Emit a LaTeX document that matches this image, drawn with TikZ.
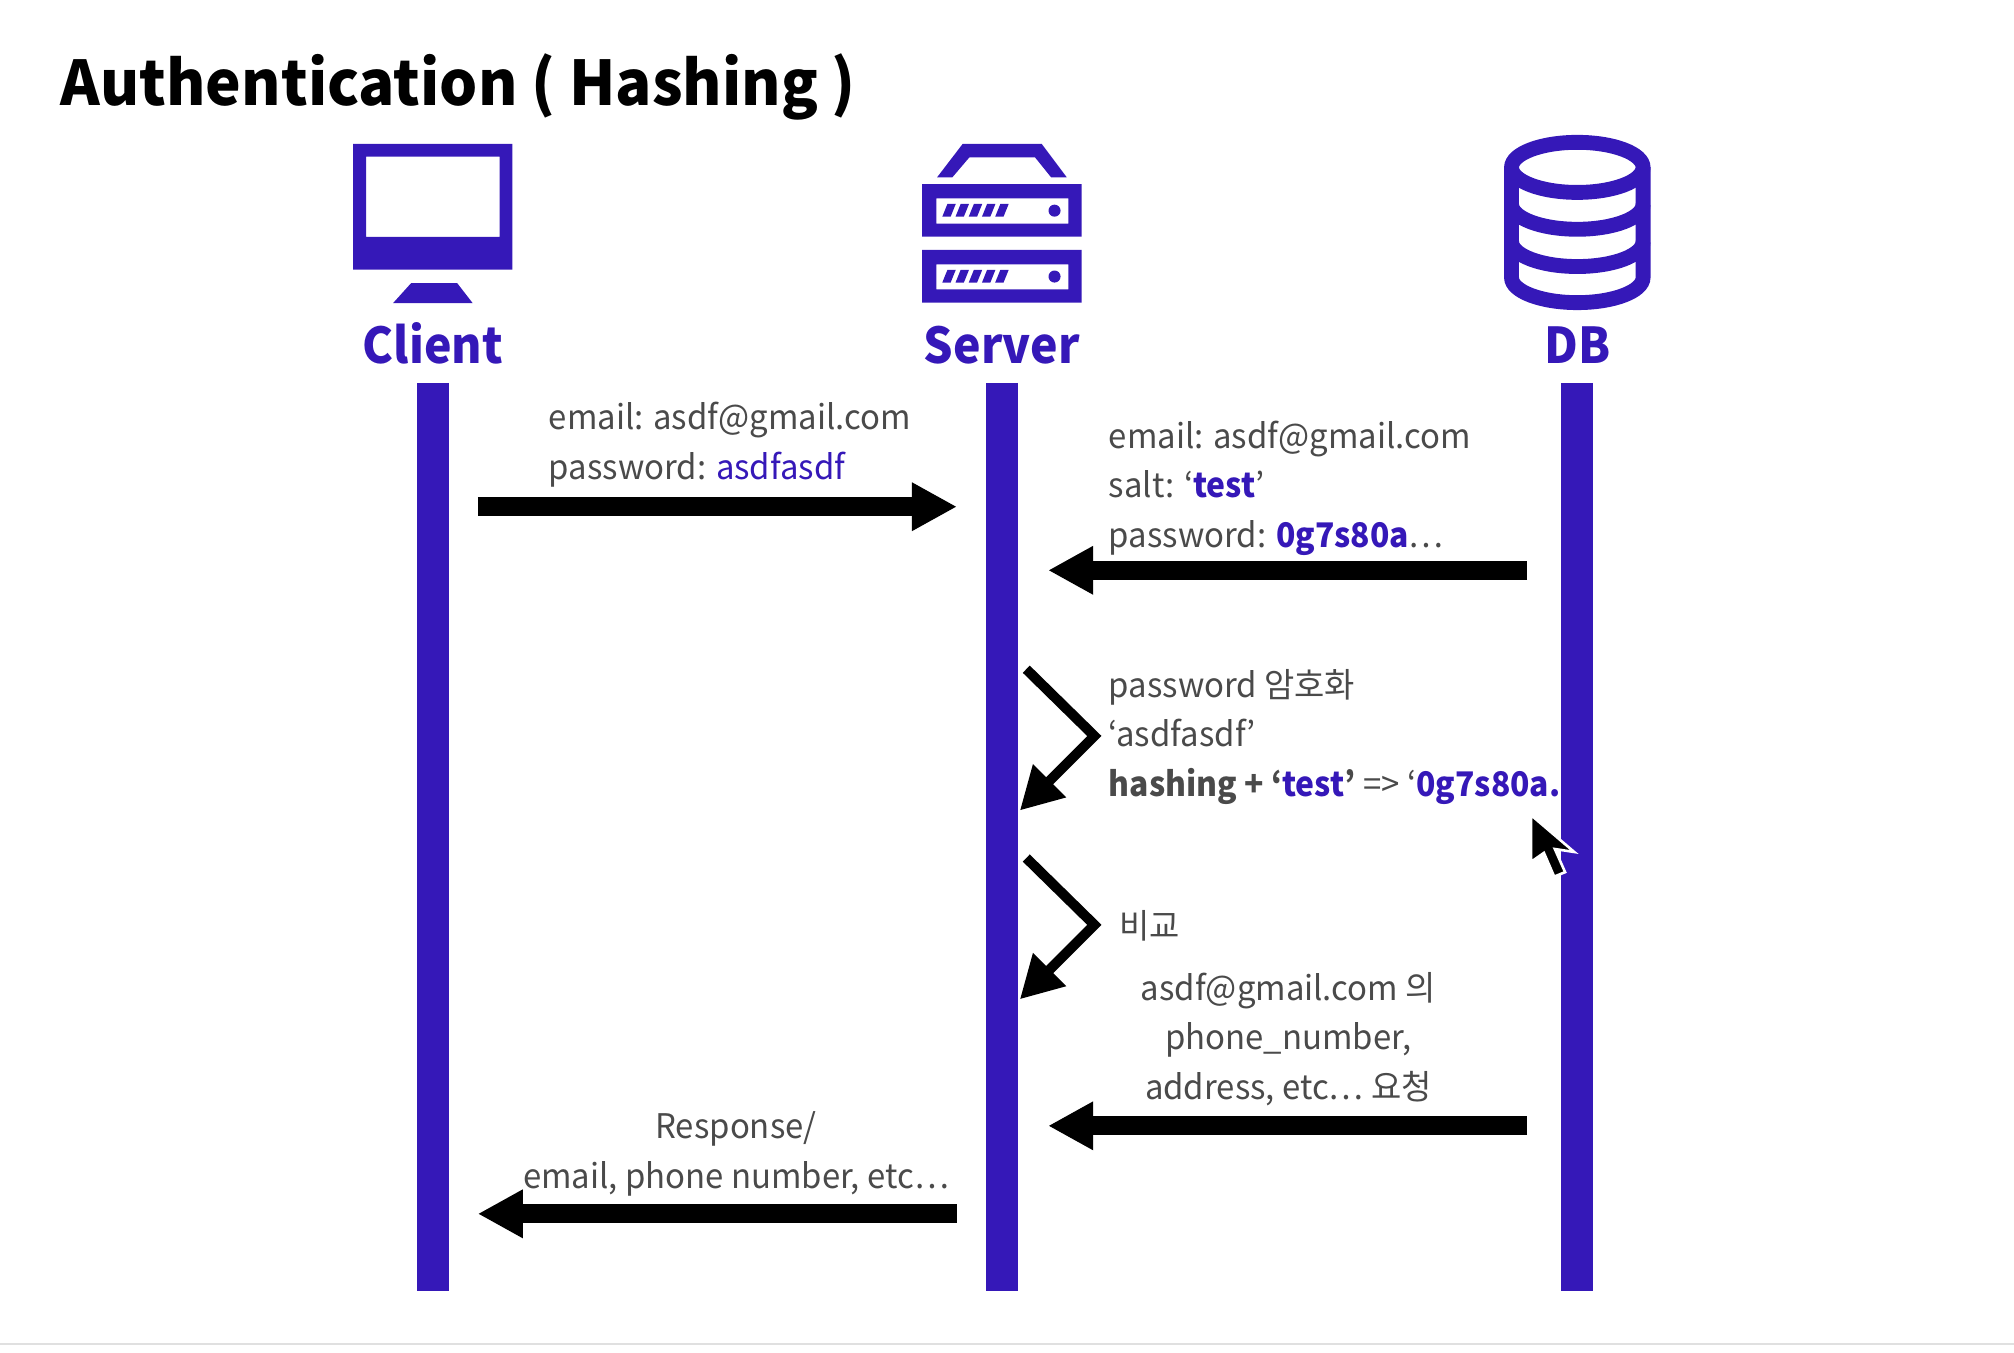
\documentclass[tikz,border=0pt]{standalone}
\usepackage{xcolor}
\usepackage{fontspec}
\setmainfont[FakeStretch=0.97, BoldFeatures={FakeStretch=0.94}]{Noto Sans CJK KR}
\newfontfamily\headfont[FakeStretch=0.975]{Noto Sans CJK KR}
\usetikzlibrary{arrows.meta}
\definecolor{iconblue}{HTML}{3518B8}
\definecolor{textgray}{HTML}{4A4A4A}
\newcommand{\hl}[1]{\textcolor{iconblue}{#1}}
\newcommand{\hlb}[1]{\textcolor{iconblue}{\bfseries #1}}
\tikzset{
    lifeline/.style={draw=iconblue, line width=16pt},
    bigarrow/.style={line width=9.3pt, -{Triangle[length=22.4pt, width=22.6pt]}},
    selfarrow/.style={line width=5pt, miter limit=10, -{Triangle[length=21pt, width=22pt]}},
    actor/.style={text=iconblue, font=\fontsize{24.6}{28}\selectfont\bfseries},
    msg/.style={text=textgray, inner sep=0pt, font=\fontsize{16.9}{24.7}\selectfont},
}
\begin{document}
\begin{tikzpicture}[x=0.64pt, y=-0.64pt]
    \useasboundingbox (0,0) rectangle (1568,1052.6);
    \draw[black!12, line width=1pt] (0,1046) -- (1568,1046);

    \node[anchor=base west, inner sep=0pt, font=\fontsize{30.7}{36}\selectfont\headfont\bfseries] (title) at (47,82) {Authentication ( Hashing )};

    % client icon
    \fill[iconblue, even odd rule] (275,112) rectangle (399,210) (285,122) rectangle (389,184.5);
    \fill[iconblue] (320,220.5) -- (356,220.5) -- (368,236) -- (306,236) -- cycle;
    % server icon
    \fill[iconblue] (749.5,112) -- (811,112) -- (830.5,138) -- (818.3,138) -- (805.8,122.5) -- (754.7,122.5) -- (741.5,138) -- (729.6,138) -- cycle;
    \foreach \dy in {0,51.3} {
        \begin{scope}[yshift=-\dy*0.64pt]
        \fill[iconblue, even odd rule] (718,143.3) rectangle (842,184.3) (729,154.5) rectangle (831.7,174);
        \foreach \i in {0,...,4}
            \fill[iconblue] (733.6+\i*10.3,168.7) -- (737.6+\i*10.3,158.8) -- (744.1+\i*10.3,158.8) -- (740.1+\i*10.3,168.7) -- cycle;
        \fill[iconblue] (821,164) circle (4.7);
        \end{scope}
    }
    % db icon
    \begin{scope}[draw=iconblue, line width=7.4pt]
    \draw (1228,130.3) ellipse [x radius=51.2, y radius=19.5];
    \draw (1176.8,130.3) -- (1176.8,216.1) arc [start angle=180, end angle=0, x radius=51.2, y radius=19.5]
        -- (1279.2,130.3);
    \draw (1176.8,159) arc [start angle=180, end angle=0, x radius=51.2, y radius=19.5];
    \draw (1176.8,188) arc [start angle=180, end angle=0, x radius=51.2, y radius=19.5];
    \end{scope}

    \node[actor, anchor=base] (client) at (337,283) {Client};
    \node[actor, anchor=base] (server) at (780,283) {Server};
    \node[actor, anchor=base] (db) at (1228,283) {DB};

    \coordinate (clienttop) at (337,298);
    \coordinate (clientbot) at (337,1005);
    \coordinate (servertop) at (780,298);
    \coordinate (serverbot) at (780,1005);
    \coordinate (dbtop) at (1228,298);
    \coordinate (dbbot) at (1228,1005);
    \draw[lifeline] (clienttop) -- (clientbot);
    \draw[lifeline] (servertop) -- (serverbot);
    \draw[lifeline] (dbtop) -- (dbbot);

    \coordinate (a1s) at (372,394.5);
    \coordinate (a1e) at (745,394.5);
    \coordinate (a2s) at (1189,444);
    \coordinate (a2e) at (816,444);
    \coordinate (a3s) at (1189,876.5);
    \coordinate (a3e) at (816,876.5);
    \coordinate (a4s) at (745,945);
    \coordinate (a4e) at (372,945);
    \draw[bigarrow] (a1s) -- (a1e);
    \draw[bigarrow] (a2s) -- (a2e);
    \draw[bigarrow] (a3s) -- (a3e);
    \draw[bigarrow] (a4s) -- (a4e);

    \coordinate (b1s) at (799,521);
    \coordinate (b1m) at (852,573);
    \coordinate (b1e) at (794,631);
    \coordinate (b2s) at (799,668);
    \coordinate (b2m) at (852,720);
    \coordinate (b2e) at (794,778);
    \draw[selfarrow] (b1s) -- (b1m) -- (b1e);
    \draw[selfarrow] (b2s) -- (b2m) -- (b2e);

    \node[msg, anchor=base west, align=left] (login) at (427,373) {email: asdf@gmail.com\\password: \hl{asdfasdf}};
    \node[msg, anchor=base west, align=left] (stored) at (863,426) {email: asdf@gmail.com\\salt: ‘\hlb{test}’\\password: \hlb{0g7s80a}…};
    \node[msg, anchor=base west, align=left] (hashing) at (863,620) {password 암호화\\‘asdfasdf’\\\textbf{hashing + ‘}\hlb{test}\textbf{’} => ‘\hlb{0g7s80a.}};
    \node[msg, anchor=base west] (compare) at (871,731) {비교};
    \node[msg, anchor=base, align=center] (request) at (1003,856) {asdf@gmail.com 의\\phone\_number,\\address, etc… 요청};
    \node[msg, anchor=base, align=center] (response) at (573,925) {Response/\\email, phone number, etc…};

    % mouse pointer
    \fill[black, draw=white, line width=1.3pt, line join=miter] (1192,634.6) -- (1192,671) -- (1202,664) -- (1210,682.5) -- (1218.5,679) -- (1210.5,661) -- (1225.6,663.3) -- cycle;
\end{tikzpicture}
\end{document}
